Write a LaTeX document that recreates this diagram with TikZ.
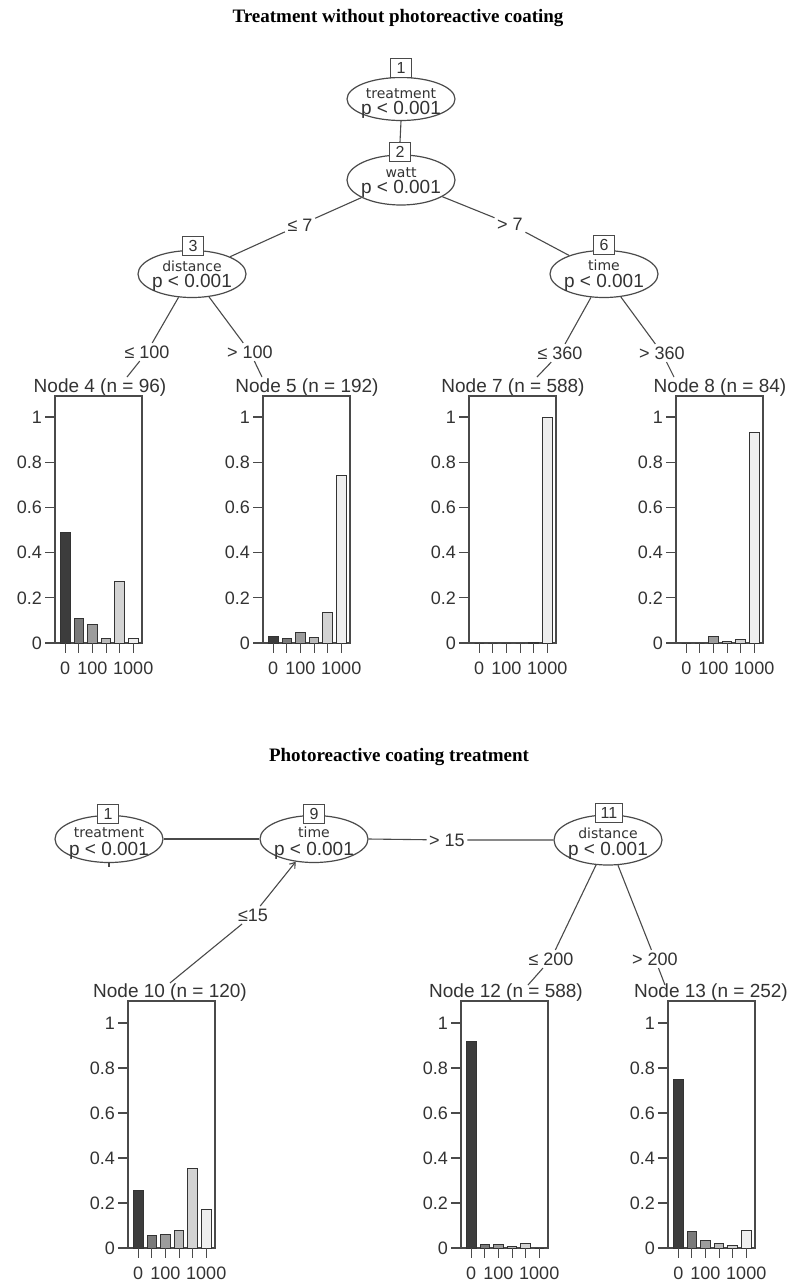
\documentclass[tikz,border=0pt]{standalone}
\usepackage{fontspec}
\setmainfont{Liberation Sans}
\newfontfamily\serifbold{Liberation Serif}
\newfontfamily\dvs{DejaVu Sans}
\usetikzlibrary{shapes.geometric,arrows.meta}
\definecolor{ink}{HTML}{333333}
\definecolor{edgec}{HTML}{4A4A4A}
\definecolor{bar1}{HTML}{3C3C3C}
\definecolor{bar2}{HTML}{7A7A7A}
\definecolor{bar3}{HTML}{9C9C9C}
\definecolor{bar4}{HTML}{B9B9B9}
\definecolor{bar5}{HTML}{D3D3D3}
\definecolor{bar6}{HTML}{EEEEEE}
\tikzset{
  ellnode/.style={ellipse,draw=edgec,line width=1.2pt,minimum width=108pt,minimum height=47pt,inner sep=0pt},
  idbox/.style={rectangle,draw=edgec,line width=1pt,fill=white,minimum width=21pt,minimum height=19pt,inner sep=1pt,font=\fontsize{16}{16}\selectfont,text=ink},
  varname/.style={font=\dvs\fontsize{14}{14}\selectfont,text=ink,inner sep=0pt,anchor=base},
  pval/.style={font=\fontsize{19}{19}\selectfont,text=ink,inner sep=0pt,anchor=base},
  elab/.style={font=\fontsize{18}{18}\selectfont,text=ink,inner sep=2.5pt},
  edge/.style={draw=edgec,line width=1.1pt},
  leaftitle/.style={font=\fontsize{19}{19}\selectfont,text=ink,inner sep=1pt},
  frameline/.style={draw=edgec,line width=1.1pt},
  barline/.style={draw=ink,line width=1pt},
  ylab/.style={font=\fontsize{18}{18}\selectfont,text=ink,inner sep=0pt},
  xlab/.style={font=\fontsize{18}{18}\selectfont,text=ink,inner sep=0pt},
  maintitle/.style={font=\serifbold\bfseries\fontsize{19}{19}\selectfont,text=black}
}
% #1 prefix, #2 left x of frame, #3 y of zero line, #4 px per unit, #5 heights
\newcommand{\leafpanel}[5]{%
  \draw[frameline] (#2,{#3-247}) rectangle ({#2+87},#3);
  \foreach \v [count=\k] in {0,0.2,0.4,0.6,0.8,1} {
    \draw[frameline] ({#2-10},{#3-\v*#4}) -- (#2,{#3-\v*#4});
    \node[ylab,anchor=east] (#1-y\k) at ({#2-13},{#3-\v*#4}) {\v};
  }
  \foreach \h [count=\i] in {#5} {
    \pgfmathsetmacro\bx{#2+5.5+13.6*(\i-1)}
    \draw[barline,fill=bar\i] (\bx,#3) rectangle ({\bx+9.5},{#3-\h*#4});
  }
  \foreach \i in {1,...,6} {
    \pgfmathsetmacro\cx{#2+10.25+13.6*(\i-1)}
    \draw[frameline] (\cx,#3) -- (\cx,{#3+10});
  }
  \node[xlab] (#1-x1) at ({#2+10.25},{#3+25}) {0};
  \node[xlab] (#1-x3) at ({#2+37.45},{#3+25}) {100};
  \node[xlab] (#1-x6) at ({#2+78.25},{#3+25}) {1000};
}
\begin{document}
\begin{tikzpicture}[x=1pt,y=-1pt]
\useasboundingbox (0,0) rectangle (796,1283);
\fill[white] (0,0) rectangle (796,1283);

% ---------- Top tree ----------
\node[maintitle] (title1) at (398,18) {Treatment without photoreactive coating};

\node[ellnode,minimum height=43pt] (n1) at (401,99) {};
\node[varname] (n1v) at (401,98) {treatment};
\node[pval] (n1p) at (401,114) {p < 0.001};
\node[idbox] (b1) at (401,68) {1};

\node[ellnode,minimum height=50pt] (n2) at (401,180) {};
\node[varname] (n2v) at (401,177) {watt};
\node[pval] (n2p) at (401,193) {p < 0.001};
\node[idbox] (b2) at (400,152) {2};

\node[ellnode] (n3) at (192,274) {};
\node[varname] (n3v) at (192,271) {distance};
\node[pval] (n3p) at (192,287) {p < 0.001};
\node[idbox] (b3) at (193,246) {3};

\node[ellnode] (n6) at (604,274) {};
\node[varname] (n6v) at (604,270) {time};
\node[pval] (n6p) at (604,287) {p < 0.001};
\node[idbox] (b6) at (604,245) {6};

\node[elab] (l23) at (300,225) {≤ 7};
\node[elab] (l26) at (510,224) {> 7};
\node[elab] (l4) at (147,352) {≤ 100};
\node[elab] (l5) at (250,352) {> 100};
\node[elab] (l7) at (560,353) {≤ 360};
\node[elab] (l8) at (662,353) {> 360};

\node[leaftitle] (t4) at (100,388) {Node 4 (n = 96)};
\node[leaftitle] (t5) at (307,388) {Node 5 (n = 192)};
\node[leaftitle] (t7) at (513,388) {Node 7 (n = 588)};
\node[leaftitle] (t8) at (720,388) {Node 8 (n = 84)};

\coordinate (e4) at (127,377);
\coordinate (e5) at (262,377);
\coordinate (e7) at (537,377);
\coordinate (e8) at (674,377);

\draw[edge] (n1.south) -- (b2.north);
\draw[edge] (n2) -- (l23) -- (n3);
\draw[edge] (n2) -- (l26) -- (n6);
\draw[edge] (n3) -- (l4) -- (e4);
\draw[edge] (n3) -- (l5) -- (e5);
\draw[edge] (n6) -- (l7) -- (e7);
\draw[edge] (n6) -- (l8) -- (e8);

\leafpanel{p4}{55}{643}{226}{0.49,0.11,0.08,0.02,0.27,0.02}
\leafpanel{p5}{263}{643}{226}{0.03,0.02,0.045,0.025,0.135,0.74}
\leafpanel{p7}{469}{643}{226}{0,0,0,0,0.004,1.0}
\leafpanel{p8}{676}{643}{226}{0,0,0.03,0.008,0.015,0.93}

% ---------- Bottom tree ----------
\node[maintitle] (title2) at (399,757) {Photoreactive coating treatment};

\node[ellnode] (m1) at (109,839) {};
\node[varname] (m1v) at (109,837) {treatment};
\node[pval] (m1p) at (109,855) {p < 0.001};
\node[idbox] (bm1) at (108,814) {1};

\node[ellnode] (m9) at (314,839) {};
\node[varname] (m9v) at (314,837) {time};
\node[pval] (m9p) at (314,855) {p < 0.001};
\node[idbox] (bm9) at (314,814) {9};

\node[ellnode,minimum height=50pt] (m11) at (608,840) {};
\node[varname] (m11v) at (608,838) {distance};
\node[pval] (m11p) at (608,855) {p < 0.001};
\node[idbox,minimum width=27pt] (bm11) at (609,813) {11};

\node[elab] (l915) at (447,840) {> 15};
\node[elab] (l10) at (253,915) {≤15};
\node[elab] (l12) at (551,959) {≤ 200};
\node[elab] (l13) at (655,959) {> 200};

\node[leaftitle] (t10) at (170,993) {Node 10 (n = 120)};
\node[leaftitle] (t12) at (506,993) {Node 12 (n = 588)};
\node[leaftitle] (t13) at (711,993) {Node 13 (n = 252)};

\coordinate (e12) at (528,985);
\coordinate (e13) at (665,985);
\coordinate (m1stub) at (109,867);

\draw[edge] (m1.east) -- (m9.west);
\draw[edge] (m1.south) -- (m1stub);
\draw[edge] (m9.east) -- (l915) -- (m11.west);
\draw[edge,-{Straight Barb[length=5pt,width=7pt]}] (t10.north) -- (l10) -- (m9);
\draw[edge] (m11) -- (l12) -- (e12);
\draw[edge] (m11) -- (l13) -- (e13);

\leafpanel{p10}{128}{1248}{225}{0.255,0.055,0.062,0.08,0.355,0.17}
\leafpanel{p12}{461}{1248}{225}{0.92,0.015,0.015,0.005,0.02,0}
\leafpanel{p13}{668}{1248}{225}{0.75,0.075,0.035,0.018,0.013,0.08}
\end{tikzpicture}
\end{document}
